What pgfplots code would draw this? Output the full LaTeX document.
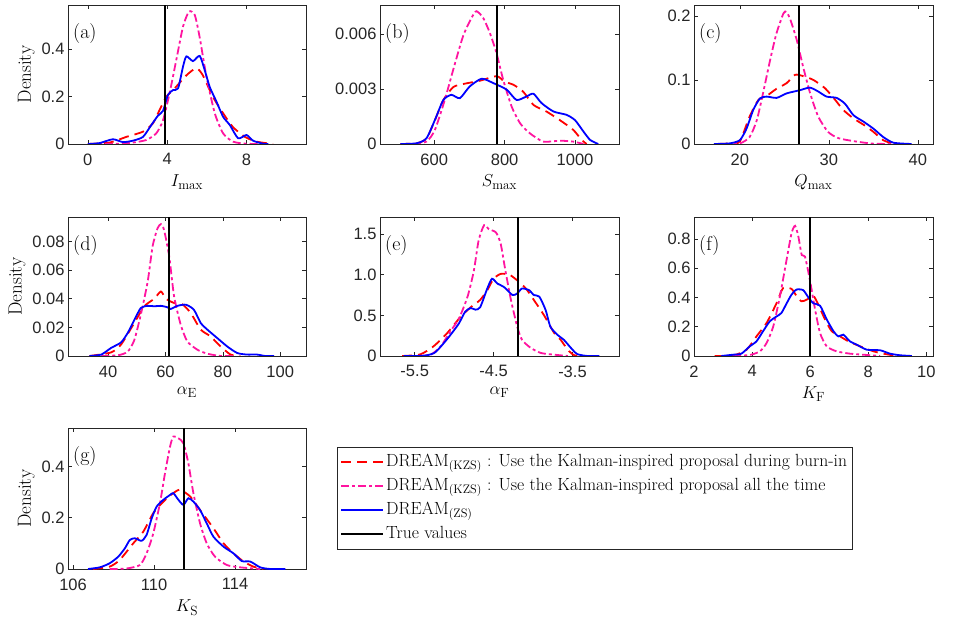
\documentclass[border=0pt]{standalone}
\usepackage{fontspec}
\newfontfamily\tickfont{Liberation Sans}
\usepackage{pgfplots}
\pgfplotsset{compat=1.18}

\definecolor{kred}{rgb}{1,0,0}
\definecolor{kmag}{RGB}{255,20,160}
\definecolor{kblue}{rgb}{0,0,1}
\definecolor{axgray}{RGB}{38,38,38}

\tikzset{
  burn/.style={kred, line width=1.8pt, dash pattern=on 10pt off 6pt, smooth, tension=0.4},
  allt/.style={kmag, line width=1.8pt, dash pattern=on 8pt off 3pt on 3pt off 3pt, smooth, tension=0.4},
  zs/.style={kblue, line width=1.8pt, smooth, tension=0.4},
  tru/.style={black, line width=2pt},
  panlab/.style={anchor=north west, inner sep=0pt, xshift=5pt, yshift=-18pt, font=\fontsize{20}{22}\selectfont},
}
\pgfplotsset{
  panel/.style={scale only axis, width=238pt, height=139pt, ymin=0,
    scaled ticks=false,
    axis line style={axgray, line width=0.5pt},
    every tick/.style={axgray, line width=0.5pt},
    tick align=inside, major tick length=4pt,
    ticklabel style={font=\tickfont\fontsize{16.5}{18}\selectfont, text=axgray},
    xticklabel style={yshift=-6pt},
    label style={font=\fontsize{19}{22}\selectfont},
    xlabel style={yshift=-3pt},
  },
}

\begin{document}
\begin{tikzpicture}
\useasboundingbox (0,0) rectangle (965pt,618pt);

% (a)
\begin{axis}[panel, at={(68pt,474pt)}, xmin=-1, xmax=11, ymax=0.587,
  xtick={0,4,8}, xticklabels={0,4,8}, ytick={0,0.2,0.4}, yticklabels={0,0.2,0.4},
  xlabel={$I_{\max}$}, ylabel={Density}]
\addplot[burn] coordinates {(0,0) (1.1,0.006) (1.94,0.03) (2.78,0.052) (3.28,0.087) (3.62,0.144) (3.96,0.2) (4.38,0.235) (4.97,0.29) (5.47,0.32) (5.8,0.29) (6.3,0.2) (6.82,0.13) (7.3,0.073) (7.9,0.031) (8.5,0.01) (9.34,0)};
\addplot[allt] coordinates {(0,0) (1.5,0.001) (2.27,0.006) (2.95,0.017) (3.45,0.045) (3.79,0.1) (4.12,0.214) (4.46,0.355) (4.8,0.496) (5.1,0.559) (5.39,0.545) (5.64,0.45) (5.98,0.285) (6.4,0.13) (6.82,0.045) (7.32,0.01) (8,0.001) (9,0)};
\addplot[zs] coordinates {(0,0) (0.6,0.004) (1.26,0.02) (1.77,0.008) (2.27,0.014) (2.78,0.03) (3.2,0.08) (3.54,0.12) (3.79,0.14) (4.04,0.207) (4.3,0.228) (4.55,0.235) (4.8,0.327) (4.97,0.37) (5.3,0.35) (5.64,0.372) (5.9,0.31) (6.15,0.24) (6.48,0.18) (6.82,0.115) (7.16,0.08) (7.58,0.024) (8.0,0.038) (8.33,0.014) (8.84,0.001) (9.1,0)};
\addplot[tru] coordinates {(3.9,0) (3.9,0.587)};
\node[panlab] at (rel axis cs:0,1) {(a)};
\end{axis}

% (b)
\begin{axis}[panel, at={(380pt,474pt)}, width=239pt, xmin=446, xmax=1125, ymax=0.00758,
  xtick={600,800,1000}, xticklabels={600,800,1000}, ytick={0,0.003,0.006}, yticklabels={0,0.003,0.006},
  xlabel={$S_{\max}$}]
\addplot[burn] coordinates {(504,0) (550,0.00004) (578,0.0003) (602,0.0013) (626,0.0024) (654,0.0031) (682,0.00327) (730,0.00345) (777,0.0037) (800,0.0034) (825,0.00323) (853,0.00285) (882,0.00213) (919,0.00177) (957,0.0013) (995,0.00077) (1019,0.00022) (1033,0)};
\addplot[allt] coordinates {(540,0) (578,0.00013) (602,0.00077) (630,0.0024) (654,0.00405) (682,0.00588) (706,0.00688) (720,0.00724) (739,0.00688) (758,0.00606) (777,0.00496) (796,0.0035) (820,0.00204) (844,0.00113) (872,0.00058) (910,0.00013) (957,0.00018) (995,0.00013) (1024,0)};
\addplot[zs] coordinates {(504,0) (550,0.00004) (578,0.00031) (602,0.00131) (626,0.0024) (649,0.00268) (673,0.0025) (701,0.00314) (735,0.00356) (768,0.00332) (806,0.00296) (834,0.0024) (863,0.0026) (882,0.00274) (905,0.00223) (939,0.00177) (976,0.00159) (1000,0.0013) (1024,0.00068) (1043,0.00022) (1066,0)};
\addplot[tru] coordinates {(779,0) (779,0.00758)};
\node[panlab] at (rel axis cs:0,1) {(b)};
\end{axis}

% (c)
\begin{axis}[panel, at={(694pt,474pt)}, width=239pt, xmin=14.85, xmax=41.7, ymax=0.217,
  xtick={20,30,40}, xticklabels={20,30,40}, ytick={0,0.1,0.2}, yticklabels={0,0.1,0.2},
  xlabel={$Q_{\max}$}]
\addplot[burn] coordinates {(17.5,0) (19,0.001) (20,0.004) (21.1,0.043) (22.1,0.069) (23,0.075) (24.1,0.086) (25.25,0.095) (26.2,0.108) (27.1,0.106) (28.26,0.1) (29.57,0.087) (30.7,0.069) (31.63,0.053) (32.76,0.04) (33.9,0.03) (35,0.019) (36.1,0.006) (37.26,0)};
\addplot[allt] coordinates {(18.1,0) (20,0.001) (21.1,0.011) (21.9,0.037) (22.6,0.079) (23.4,0.131) (24.1,0.172) (24.9,0.204) (25.25,0.206) (25.7,0.193) (26.4,0.162) (27.1,0.121) (27.9,0.079) (28.8,0.043) (29.9,0.019) (31.1,0.009) (33,0.004) (35,0.0005) (37.5,0)};
\addplot[zs] coordinates {(17.07,0) (18.87,0.001) (20,0.006) (20.75,0.024) (21.5,0.053) (22.25,0.071) (23,0.074) (24.13,0.072) (25.25,0.079) (26.75,0.084) (27.86,0.088) (28.8,0.082) (29.74,0.074) (30.86,0.072) (31.8,0.063) (32.76,0.045) (33.88,0.035) (35,0.024) (36.1,0.011) (37.26,0.002) (39.3,0)};
\addplot[tru] coordinates {(26.6,0) (26.6,0.217)};
\node[panlab] at (rel axis cs:0,1) {(c)};
\end{axis}

% (d)
\begin{axis}[panel, at={(68pt,262pt)}, xmin=26, xmax=109, ymax=0.097,
  xtick={40,60,80,100}, xticklabels={40,60,80,100}, ytick={0,0.02,0.04,0.06,0.08}, yticklabels={0,0.02,0.04,0.06,0.08},
  xlabel={$\alpha_{\mathrm{E}}$}, ylabel={Density}]
\addplot[burn] coordinates {(33.5,0) (41.0,0.0025) (44.5,0.008) (49.1,0.023) (52.6,0.0347) (56.1,0.04) (58.4,0.045) (60.1,0.04) (63.0,0.037) (65.9,0.036) (68.8,0.03) (72.3,0.0184) (75.7,0.0137) (79.2,0.0067) (82.7,0.001) (86.1,0)};
\addplot[allt] coordinates {(37.6,0) (43.4,0.0005) (46.8,0.003) (49.1,0.011) (51.4,0.029) (53.8,0.052) (55.5,0.0765) (57.2,0.089) (58.4,0.092) (59.5,0.088) (61.3,0.0695) (63.0,0.0416) (65.3,0.0219) (67.6,0.0102) (71.1,0.0044) (74.6,0.0016) (79.2,0) (83.9,0)};
\addplot[zs] coordinates {(33.5,0) (37.6,0.001) (41.0,0.0056) (44.5,0.0095) (46.8,0.016) (49.1,0.025) (51.4,0.0335) (53.8,0.035) (56.1,0.0347) (58.4,0.035) (60.7,0.034) (61.8,0.0328) (64.2,0.035) (67.1,0.0358) (69.9,0.0323) (72.3,0.023) (74.6,0.0184) (78.0,0.0126) (81.5,0.0067) (85.0,0.0021) (88.4,0.001) (91.9,0.001) (94.8,0) (97.9,0)};
\addplot[tru] coordinates {(61.2,0) (61.2,0.097)};
\node[panlab] at (rel axis cs:0,1) {(d)};
\end{axis}

% (e)
\begin{axis}[panel, at={(380pt,262pt)}, width=239pt, xmin=-5.94, xmax=-2.91, ymax=1.71,
  xtick={-5.5,-4.5,-3.5}, xticklabels={-5.5,-4.5,-3.5}, ytick={0,0.5,1,1.5}, yticklabels={0,0.5,1.0,1.5},
  xlabel={$\alpha_{\mathrm{F}}$}]
\addplot[burn] coordinates {(-5.66,0) (-5.43,0.02) (-5.26,0.12) (-5.09,0.28) (-4.92,0.48) (-4.79,0.6) (-4.67,0.69) (-4.58,0.81) (-4.5,0.95) (-4.41,1.01) (-4.3,1.0) (-4.2,0.93) (-4.09,0.83) (-3.99,0.69) (-3.86,0.5) (-3.73,0.28) (-3.65,0.2) (-3.56,0.077) (-3.48,0.01) (-3.39,0)};
\addplot[allt] coordinates {(-5.51,0) (-5.3,0.016) (-5.17,0.12) (-5.05,0.3) (-4.94,0.46) (-4.83,0.73) (-4.75,1.05) (-4.69,1.42) (-4.62,1.61) (-4.56,1.56) (-4.47,1.52) (-4.41,1.38) (-4.35,1.05) (-4.28,0.69) (-4.2,0.36) (-4.14,0.2) (-4.03,0.1) (-3.9,0.037) (-3.73,0.016) (-3.56,0)};
\addplot[zs] coordinates {(-5.64,0) (-5.47,0) (-5.34,0.01) (-5.24,0.045) (-5.13,0.16) (-5.03,0.28) (-4.94,0.4) (-4.86,0.545) (-4.79,0.59) (-4.73,0.57) (-4.67,0.6) (-4.58,0.83) (-4.52,0.95) (-4.45,0.89) (-4.37,0.85) (-4.26,0.75) (-4.2,0.77) (-4.14,0.83) (-4.05,0.81) (-3.99,0.75) (-3.92,0.73) (-3.84,0.565) (-3.78,0.36) (-3.69,0.26) (-3.61,0.2) (-3.52,0.1) (-3.44,0.024) (-3.31,0) (-3.16,0)};
\addplot[tru] coordinates {(-4.19,0) (-4.19,1.71)};
\node[panlab] at (rel axis cs:0,1) {(e)};
\end{axis}

% (f)
\begin{axis}[panel, at={(694pt,262pt)}, width=239pt, xmin=2, xmax=10.23, ymax=0.95,
  xtick={2,4,6,8,10}, xticklabels={2,4,6,8,10}, ytick={0,0.2,0.4,0.6,0.8}, yticklabels={0,0.2,0.4,0.6,0.8},
  xlabel={$K_{\mathrm{F}}$}]
\addplot[burn] coordinates {(2.71,0) (3.35,0.004) (3.81,0.043) (4.15,0.134) (4.5,0.226) (4.84,0.36) (5.07,0.465) (5.36,0.458) (5.53,0.41) (5.7,0.374) (5.88,0.385) (6.11,0.41) (6.28,0.351) (6.51,0.25) (6.74,0.17) (7.03,0.134) (7.32,0.1) (7.72,0.066) (8.18,0.032) (8.52,0.016) (8.98,0)};
\addplot[allt] coordinates {(3.35,0) (3.92,0.007) (4.27,0.032) (4.5,0.089) (4.73,0.203) (4.96,0.41) (5.19,0.66) (5.36,0.84) (5.48,0.89) (5.59,0.82) (5.71,0.69) (5.82,0.68) (5.99,0.52) (6.17,0.317) (6.34,0.157) (6.57,0.066) (6.91,0.032) (7.37,0.016) (7.95,0.007) (8.41,0)};
\addplot[zs] coordinates {(2.94,0) (3.35,0.009) (3.63,0.016) (3.92,0.066) (4.15,0.1) (4.38,0.17) (4.61,0.237) (4.84,0.27) (5.01,0.294) (5.19,0.36) (5.36,0.42) (5.53,0.454) (5.76,0.45) (5.94,0.4) (6.11,0.36) (6.34,0.344) (6.57,0.25) (6.8,0.17) (6.97,0.134) (7.14,0.146) (7.37,0.1) (7.6,0.078) (7.95,0.043) (8.41,0.039) (8.75,0.016) (9.1,0.005) (9.5,0)};
\addplot[tru] coordinates {(6.0,0) (6.0,0.95)};
\node[panlab] at (rel axis cs:0,1) {(f)};
\end{axis}

% (g) with legend
\begin{axis}[panel, at={(68pt,49pt)}, height=141pt, xmin=105.75, xmax=117.5, ymax=0.55,
  xtick={106,110,114}, xticklabels={106,110,114}, ytick={0,0.2,0.4}, yticklabels={0,0.2,0.4},
  xlabel={$K_{\mathrm{S}}$}, ylabel={Density},
  legend image code/.code={\draw[#1] (0pt,0pt) -- (42pt,0pt);},
  legend style={at={(1.1303,0.8652)}, anchor=north west, draw=axgray, fill=white,
    font=\fontsize{17.6}{20}\selectfont, cells={anchor=west}, inner xsep=3pt, inner ysep=3pt, row sep=0pt,
    nodes={inner sep=2pt, text height=14pt, text depth=6pt}}]
\addlegendimage{burn}
\addlegendentry{DREAM$_{\mathrm{(KZS)}}$ : Use the Kalman-inspired proposal during burn-in}
\addlegendimage{allt}
\addlegendentry{DREAM$_{\mathrm{(KZS)}}$ : Use the Kalman-inspired proposal all the time}
\addlegendimage{zs}
\addlegendentry{DREAM$_{\mathrm{(ZS)}}$}
\addlegendimage{tru}
\addlegendentry{True values}
\addplot[burn, forget plot] coordinates {(106.99,0) (107.8,0.009) (108.3,0.035) (108.97,0.1) (109.47,0.146) (109.96,0.218) (110.46,0.263) (110.95,0.296) (111.28,0.309) (111.78,0.283) (112.27,0.23) (112.93,0.159) (113.43,0.1) (113.92,0.061) (114.42,0.029) (114.91,0.009) (115.4,0)};
\addplot[allt, forget plot] coordinates {(107.8,0) (108.64,0.002) (109.3,0.0156) (109.63,0.061) (109.96,0.139) (110.29,0.257) (110.54,0.374) (110.79,0.478) (110.95,0.517) (111.2,0.51) (111.45,0.49) (111.69,0.413) (111.94,0.296) (112.27,0.178) (112.6,0.1) (113.01,0.048) (113.59,0.0156) (114.25,0.0065) (115.24,0)};
\addplot[zs, forget plot] coordinates {(106.74,0) (107.32,0.0065) (107.8,0.022) (108.23,0.048) (108.56,0.081) (108.8,0.113) (109.05,0.12) (109.38,0.11) (109.63,0.133) (109.88,0.197) (110.13,0.244) (110.46,0.27) (110.79,0.289) (110.95,0.296) (111.2,0.27) (111.45,0.25) (111.69,0.276) (111.94,0.263) (112.27,0.23) (112.6,0.178) (112.93,0.126) (113.43,0.087) (113.92,0.061) (114.33,0.031) (114.75,0.029) (115.24,0.0065) (115.74,0) (116.48,0)};
\addplot[tru, forget plot] coordinates {(111.5,0) (111.5,0.55)};
\node[panlab] at (rel axis cs:0,1) {(g)};
\end{axis}
\end{tikzpicture}
\end{document}
